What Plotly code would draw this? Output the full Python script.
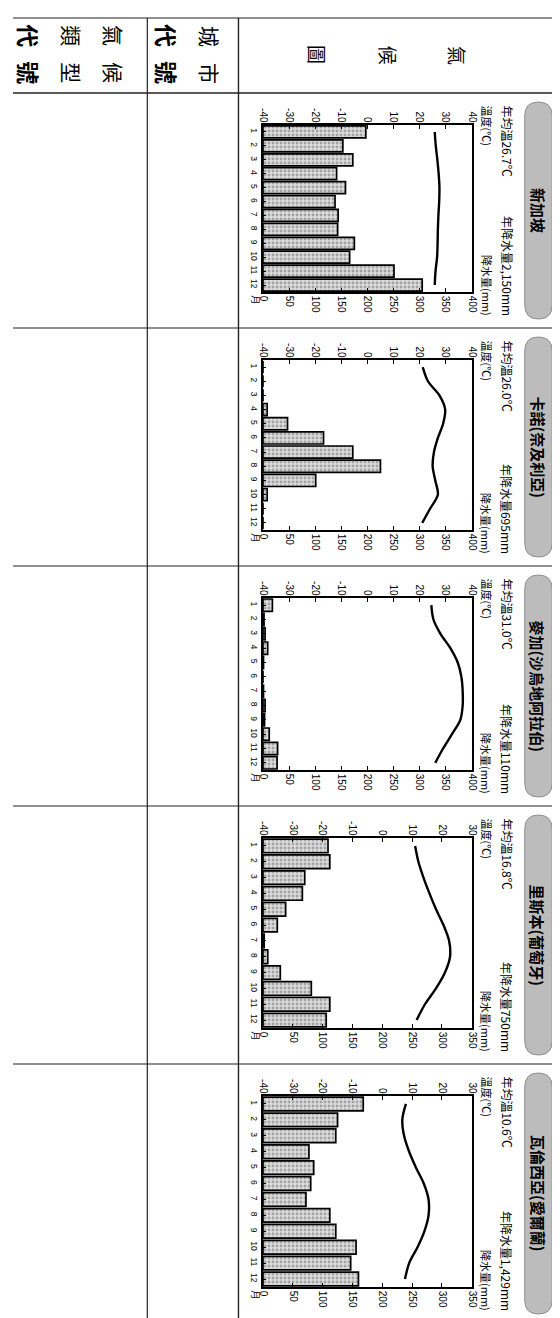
import plotly.graph_objects as go

W, H = 560, 1318
CJK = "Noto Sans CJK TC"
NUM = "Liberation Sans"

# ---------------- data ----------------
months = [1, 2, 3, 4, 5, 6, 7, 8, 9, 10, 11, 12]
month_text = ["1", "2", "3", "4", "5", "6", "7", "8", "9", "10", "11", "12"]

city_names = ["新加坡", "卡諾(奈及利亞)", "麥加(沙烏地阿拉伯)", "里斯本(葡萄牙)", "瓦倫西亞(愛爾蘭)"]
mean_temp_text = ["26.7", "26.0", "31.0", "16.8", "10.6"]
total_precip_text = ["2,150", "695", "110", "750", "1,429"]

temp_singapore = [25.8, 26.2, 26.8, 27.3, 27.6, 27.5, 27.2, 27.0, 26.9, 26.7, 26.1, 25.8]
precip_singapore = [197, 153, 172, 141, 158, 138, 144, 143, 175, 166, 251, 305]

temp_kano = [21.2, 23.2, 27.6, 29.8, 29.0, 27.0, 25.5, 25.0, 26.0, 27.0, 24.0, 21.0]
precip_kano = [0, 0, 0, 8, 47, 116, 172, 225, 101, 8, 0, 0]

temp_mecca = [24.5, 25.3, 28.0, 31.8, 34.6, 36.0, 36.5, 36.5, 35.6, 32.4, 29.0, 26.0]
precip_mecca = [18, 2, 4, 9, 1, 0, 1, 4, 3, 12, 28, 27]

temp_lisbon = [11.0, 12.1, 13.8, 15.8, 18.0, 20.5, 22.4, 22.7, 21.0, 18.0, 14.3, 11.5]
precip_lisbon = [109, 112, 70, 66, 38, 24, 2, 8, 29, 81, 112, 106]

temp_valentia = [7.9, 6.7, 7.3, 9.0, 11.3, 13.9, 15.5, 15.5, 14.1, 11.8, 9.0, 7.6]
precip_valentia = [168, 125, 122, 77, 85, 80, 72, 112, 122, 156, 147, 160]

temps = [temp_singapore, temp_kano, temp_mecca, temp_lisbon, temp_valentia]
precips = [precip_singapore, precip_kano, precip_mecca, precip_lisbon, precip_valentia]

temp_min = [-40, -40, -40, -40, -40]
temp_max = [40, 40, 40, 30, 30]
precip_max = [400, 400, 400, 350, 350]

header_col1 = ["氣候", "類型", "代號"]
header_col2 = ["城市", "代號"]
header_col3 = "氣候圖"
temp_axis_title = "溫度(℃)"
precip_axis_title = "降水量(mm)"
month_unit = "月"

# ---------------- layout helpers ----------------
rows_top = [85, 320, 558, 798, 1056]
rows_bot = [320, 558, 798, 1056, 1315]
FX0, FX1 = 255, 468


def px(x):
    return x / W


def py(y):
    return 1 - y / H


fig = go.Figure()
annotations = []
shapes = []


def rot_text(text, x, y, size, xanchor="center", yanchor="middle", family=CJK, color="black"):
    annotations.append(dict(
        text=text, x=px(x), y=py(y), xref="paper", yref="paper", showarrow=False,
        textangle=90, font=dict(size=size, family=family, color=color),
        xanchor=xanchor, yanchor=yanchor, borderpad=0,
    ))


def line(x0, y0, x1, y1, w=1.2, c="#222"):
    shapes.append(dict(type="line", xref="paper", yref="paper",
                       x0=px(x0), y0=py(y0), x1=px(x1), y1=py(y1),
                       line=dict(color=c, width=w)))


def pill(x0, x1, y0, y1):
    r = (x1 - x0) / 2
    X0, X1 = px(x0), px(x1)
    XM = px((x0 + x1) / 2)
    Ya, Yb = py(y0), py(y1)
    Yar, Ybr = py(y0 + r), py(y1 - r)
    path = (f"M {X0} {Yar} Q {X0} {Ya} {XM} {Ya} Q {X1} {Ya} {X1} {Yar} "
            f"L {X1} {Ybr} Q {X1} {Yb} {XM} {Yb} Q {X0} {Yb} {X0} {Ybr} Z")
    shapes.append(dict(type="path", xref="paper", yref="paper", path=path,
                       fillcolor="#bcbcbc", line=dict(color="#8e8e8e", width=1),
                       layer="below"))


layout_axes = {}

for i in range(5):
    T, B = rows_top[i], rows_bot[i]
    ft, fb = T + 32, B - 36
    xb = f"x{2*i+1}" if i > 0 else "x"
    xt = f"x{2*i+2}"
    yk = f"y{i+1}" if i > 0 else "y"

    fig.add_trace(go.Bar(
        x=precips[i], y=months, orientation="h", xaxis=xb, yaxis=yk,
        marker=dict(color="#c8c8c8", line=dict(color="black", width=1.7),
                    pattern=dict(shape=".", fgcolor="#6a6a6a", bgcolor="#dcdcdc",
                                 size=4, solidity=0.4)),
        showlegend=False, hoverinfo="skip",
    ))
    fig.add_trace(go.Scatter(
        x=temps[i], y=months, mode="lines", xaxis=xt, yaxis=yk,
        line=dict(color="black", width=2.4, shape="spline", smoothing=0.9),
        showlegend=False, hoverinfo="skip",
    ))

    tvals = list(range(temp_min[i], temp_max[i] + 1, 10))
    pvals = list(range(0, precip_max[i] + 1, 50))
    tick_font = dict(size=10, family=NUM, color="black")

    bname = "xaxis" if i == 0 else f"xaxis{2*i+1}"
    tname = f"xaxis{2*i+2}"
    yname = "yaxis" if i == 0 else f"yaxis{i+1}"

    layout_axes[bname] = dict(
        domain=[px(FX0), px(FX1)], anchor=yk, side="bottom",
        range=[0, precip_max[i]], tickvals=pvals, ticktext=[str(v) for v in pvals],
        tickangle=90, ticks="inside", ticklen=4, tickcolor="black",
        showline=True, linecolor="black", linewidth=1.6, mirror=True,
        showgrid=False, zeroline=False, tickfont=tick_font,
    )
    layout_axes[tname] = dict(
        overlaying=xb, anchor=yk, side="top",
        range=[temp_min[i], temp_max[i]], tickvals=tvals, ticktext=[str(v) for v in tvals],
        tickangle=90, ticks="inside", ticklen=4, tickcolor="black",
        showline=False, showgrid=False, zeroline=False, tickfont=tick_font,
    )
    layout_axes[yname] = dict(
        domain=[py(fb), py(ft)], anchor=xb,
        range=[12.5, 0.5], tickvals=months, ticktext=month_text,
        tickangle=90, ticks="inside", ticklen=3, tickcolor="black",
        showline=True, linecolor="black", linewidth=1.6, mirror=True,
        showgrid=False, zeroline=False, tickfont=dict(size=8.5, family=NUM, color="black"),
    )

    # title pill and texts
    pill(522, 550, T + 9, B - 9)
    rot_text("<b>" + city_names[i] + "</b>", 536, (T + B) / 2, 15)
    rot_text("年均溫" + mean_temp_text[i] + "℃", 504, T + 11, 12, yanchor="top")
    rot_text("年降水量" + total_precip_text[i] + "mm", 504, B - 11, 12, yanchor="bottom")
    rot_text(temp_axis_title, 483, T + 11, 11, yanchor="top")
    rot_text(precip_axis_title, 483, B - 11, 11, yanchor="bottom")
    rot_text(month_unit, 247, fb + 2, 9, yanchor="top")

# ---------------- header ----------------
col1_x = [103, 60, 16]
for k, s in enumerate(header_col1):
    txt = "<b>" + s[0] + "</b>" if k == 2 else s[0]
    txt2 = "<b>" + s[1] + "</b>" if k == 2 else s[1]
    size = 23 if k == 2 else 21
    rot_text(txt, col1_x[k], 28, size)
    rot_text(txt2, col1_x[k], 65, size)

col2_x = [201, 157]
for k, s in enumerate(header_col2):
    txt = "<b>" + s[0] + "</b>" if k == 1 else s[0]
    txt2 = "<b>" + s[1] + "</b>" if k == 1 else s[1]
    size = 23 if k == 1 else 21
    rot_text(txt, col2_x[k], 28, size)
    rot_text(txt2, col2_x[k], 65, size)

col3_x = [453, 383, 310]
for k, ch in enumerate(header_col3):
    rot_text(ch, col3_x[k], 47, 19)

# ---------------- table lines ----------------
line(0, 10, 553, 10)
line(0, 85, 553, 85, w=1.4)
for yb in rows_bot[:-1]:
    line(0, yb, 553, yb)
line(0, 1315, 553, 1315)
line(137, 10, 137, 1315)
line(230, 10, 230, 1315, w=1.4)
line(553, 10, 553, 1315, w=1.4)

fig.update_layout(
    width=W, height=H, margin=dict(l=0, r=0, t=0, b=0),
    paper_bgcolor="white", plot_bgcolor="white",
    bargap=0.14, annotations=annotations, shapes=shapes,
    font=dict(family=NUM, color="black"),
    **layout_axes,
)

fig.write_html("out.html")
